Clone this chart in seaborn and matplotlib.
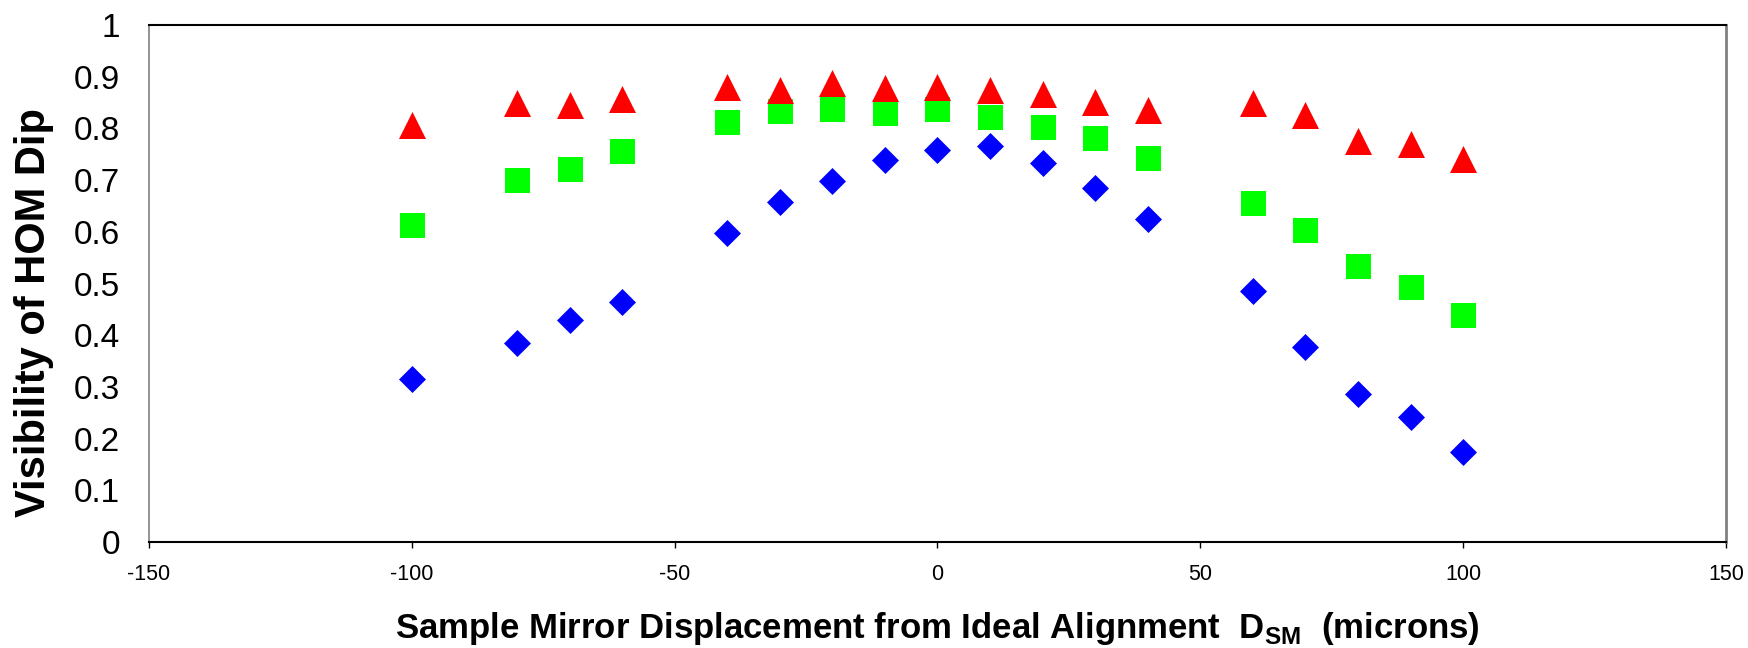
import matplotlib
matplotlib.use("Agg")
import matplotlib.pyplot as plt
import seaborn as sns
import pandas as pd

# Mirror displacement (microns) and HOM-dip visibility for three configurations
displacement = [-100, -80, -70, -60, -40, -30, -20, -10, 0, 10, 20, 30, 40, 60, 70, 80, 90, 100]
vis_diamond = [0.315, 0.384, 0.430, 0.465, 0.598, 0.657, 0.699, 0.738, 0.758, 0.765,
               0.734, 0.685, 0.625, 0.486, 0.378, 0.287, 0.241, 0.175]
vis_square = [0.614, 0.701, 0.722, 0.757, 0.813, 0.833, 0.837, 0.830, 0.837, 0.823,
              0.802, 0.781, 0.742, 0.655, 0.603, 0.533, 0.494, 0.439]
vis_triangle = [0.807, 0.849, 0.845, 0.856, 0.881, 0.874, 0.888, 0.878, 0.881, 0.874,
                0.867, 0.852, 0.835, 0.849, 0.825, 0.776, 0.769, 0.740]

x_ticks = [-150, -100, -50, 0, 50, 100, 150]
y_ticks = [0, 0.1, 0.2, 0.3, 0.4, 0.5, 0.6, 0.7, 0.8, 0.9, 1.0]
y_tick_labels = ["0", "0.1", "0.2", "0.3", "0.4", "0.5", "0.6", "0.7", "0.8", "0.9", "1"]

sns.set_theme(style="white")
plt.rcParams["font.family"] = ["Liberation Sans", "DejaVu Sans"]
plt.rcParams["mathtext.fontset"] = "custom"
plt.rcParams["mathtext.rm"] = "Liberation Sans"
plt.rcParams["mathtext.bf"] = "Liberation Sans:bold"
for key in ("text.color", "axes.labelcolor", "xtick.color", "ytick.color"):
    plt.rcParams[key] = "black"

df = pd.DataFrame({
    "x": displacement,
    "diamond": vis_diamond,
    "square": vis_square,
    "triangle": vis_triangle,
})

fig = plt.figure(figsize=(17.49, 6.48), dpi=100)
ax = fig.add_axes([149 / 1749, 1 - 542 / 648, (1726 - 149) / 1749, (542 - 25) / 648])

sns.scatterplot(data=df, x="x", y="diamond", marker="D", s=189, color="#0000FF",
                linewidth=0, ax=ax, zorder=3)
sns.scatterplot(data=df, x="x", y="square", marker="s", s=324, color="#00FF00",
                linewidth=0, ax=ax, zorder=4)
sns.scatterplot(data=df, x="x", y="triangle", marker="^", s=378, color="#FF0000",
                linewidth=0, ax=ax, zorder=5)

ax.set_xlim(-150, 150)
ax.set_ylim(0, 1)
ax.set_xticks(x_ticks)
ax.set_xticklabels([str(v) for v in x_ticks], fontsize=15.5)
ax.set_yticks(y_ticks)
ax.set_yticklabels(y_tick_labels, fontsize=24)
ax.tick_params(axis="x", direction="out", length=4.5, width=1, color="black", pad=11,
               bottom=True)
ax.tick_params(axis="y", length=0, pad=21)

for side in ("top", "bottom"):
    ax.spines[side].set_color("black")
    ax.spines[side].set_linewidth(1.5)
ax.spines["left"].set_color("#808080")
ax.spines["left"].set_linewidth(1.2)
ax.spines["right"].set_color("#808080")
ax.spines["right"].set_linewidth(2.0)

ax.set_xlabel(r"Sample Mirror Displacement from Ideal Alignment  D$_{\mathbf{SM}}$  (microns)",
              fontsize=25, fontweight="bold", labelpad=18)
ax.set_ylabel("Visibility of HOM Dip", fontsize=30, fontweight="bold")
ax.yaxis.set_label_coords(-0.0602, 0.444)

fig.savefig("out.png", dpi=100, facecolor="white")
